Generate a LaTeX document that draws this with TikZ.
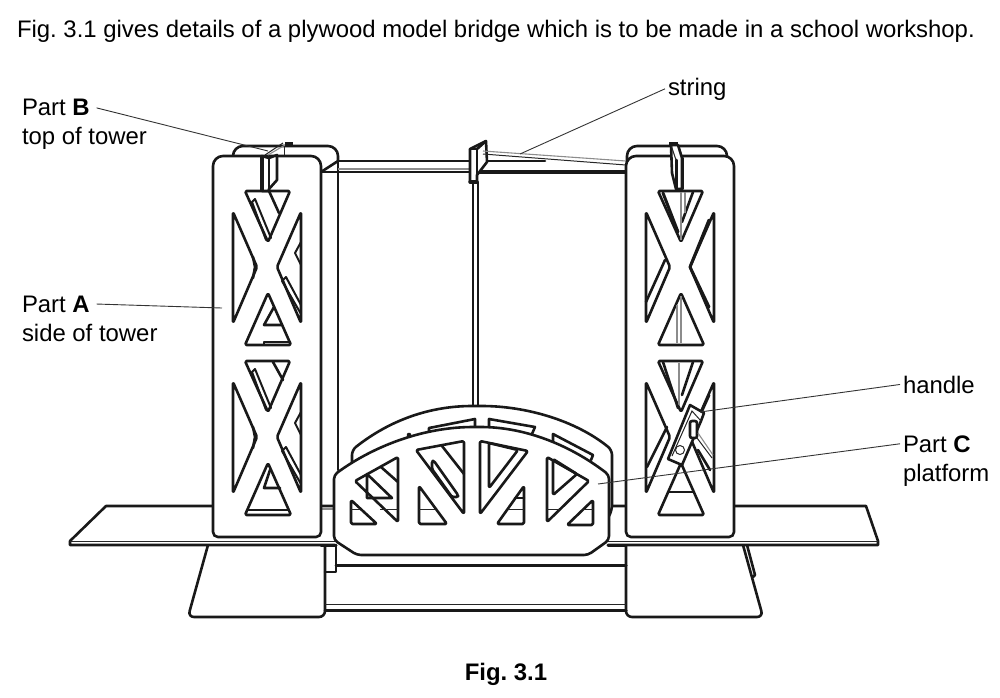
\documentclass[tikz,border=0pt]{standalone}
\usepackage{fontspec}
\setmainfont{Liberation Sans}
\usepackage{tikz}
\usetikzlibrary{positioning}
\frenchspacing

\tikzset{
    heavy/.style={line width=2.6pt, line join=round, line cap=round, draw=black!90},
    window/.style={heavy, rounded corners=1.5pt},
    solid face/.style={heavy, fill=white, rounded corners=6pt},
    fine/.style={line width=1pt, draw=black!85},
    grey line/.style={line width=1.1pt, draw=black!45},
    leader/.style={line width=0.9pt, draw=black!80},
    label/.style={inner sep=0pt, outer sep=3pt, anchor=base west, font=\fontsize{23.9}{28}\selectfont},
}

\begin{document}
\begin{tikzpicture}[x=1pt, y=-1pt]
        \useasboundingbox (0,0) rectangle (1000,697);

        % Feet
        \draw[solid face] (208,545) -- (188,617) -- (325,617) -- (325,545);
        \draw[solid face] (743,545) -- (763,617) -- (626,617) -- (626,545);
        \draw[heavy] (747,545) -- (755,575) -- (753,577);

        % Cross bars under the deck
        \draw[heavy] (325,572) -- (336,572) -- (336,545);
        \draw[heavy, line width=3pt] (336,565) -- (626,565);
        \draw[fine] (325,604) -- (626,604);
        \draw[heavy, line width=3pt] (325,610) -- (626,610);

        % Deck
        \draw[heavy, fill=white] (335,506) -- (106,506) -- (70,541) -- (70,545) -- (335,545);
        \draw[heavy, fill=white] (608,506) -- (866,506) -- (878,541) -- (878,545) -- (608,545);
        \draw[fine] (70,541) -- (335,541);
        \draw[fine] (608,541) -- (878,541);
        \draw[grey line] (321,509) -- (336,509);
        \draw[heavy, line width=3pt] (321,545) -- (336,545);
        \draw[heavy, line width=3pt] (608,545) -- (626,545);

        % Back of the towers
        \draw[heavy, fill=white, rounded corners=10pt] (233,165) -- (233,146) -- (338,146) [sharp corners] -- (338,161) -- (321,172) -- (233,172);
        \draw[heavy, fill=white, rounded corners=10pt] (627,170) -- (627,146) -- (727,146) -- (727,170) -- cycle;
        \draw[heavy] (338,161) -- (338,470);

        % Top rails
        \draw[heavy] (338,161) -- (470,161);
        \draw[heavy] (321,172) -- (470,172);
        \draw[grey line] (338,169) -- (470,169);
        \draw[heavy, line width=3.4pt] (477,172) -- (626,172);
        \draw[heavy] (487,161) -- (545,161);

        % Rod and bracket
        \draw[heavy, line width=1.6pt] (473,182) -- (473,410);
        \draw[heavy, line width=1.6pt] (478,182) -- (478,410);
        \draw[heavy, fill=white] (470,149) -- (486,141) -- (487,162) -- (477,175) -- (477,182) -- (470,182) -- cycle;
        \draw[heavy] (477,149) -- (486,141);
        \draw[heavy] (477,149) -- (470,149);
        \draw[heavy] (477,149) -- (477,182);
        \draw[heavy, line width=3.4pt] (470,182) -- (477,182);
        \draw[fine, fill=white] (476,414) circle (2.5);

        % String
        \draw[grey line] (483,151) -- (626,161);
        \draw[fine] (483,154) -- (626,165);

        % Platform, back
        \draw[heavy, fill=white, rounded corners=5pt] (352,470) -- (352,450) .. controls (390,420) and (430,406) .. (477,406)
            .. controls (525,406) and (575,420) .. (612,450) -- (612,510) -- (606,522);
        \draw[heavy] (429,431) -- (429,428) -- (475,419) -- (475,429);
        \draw[heavy] (532,434) -- (535,427) -- (489,419) -- (489,429);
        \draw[heavy] (591,460) -- (593,455) -- (553,434) -- (553,442);
        \draw[heavy, fill=black] (409,435) circle (1.2);

        % Towers, front faces
        \draw[heavy, fill=white, rounded corners=10pt] (213,350) -- (213,156) -- (321,156) -- (321,350)
            [rounded corners=5pt] -- (321,537) -- (213,537) -- cycle;
        \draw[heavy, fill=white, rounded corners=10pt] (626,350) -- (626,156) -- (734,156) -- (734,350)
            [rounded corners=5pt] -- (734,537) -- (626,537) -- cycle;

        % Window frames of both towers
        \foreach \dx in {0,413}
            \foreach \dy in {0,170} {
                \begin{scope}[shift={(\dx,\dy)}]
                    \draw[window] (245,191) -- (290,191) -- (268,242) -- cycle;
                    \draw[window] (233,212) -- (257,267) -- (233,323) -- cycle;
                    \draw[window] (301,212) -- (277,267) -- (301,323) -- cycle;
                    \draw[window] (245,345) -- (291,345) -- (268,293) -- cycle;
                \end{scope}
            }

        % Seen through the left tower
        \foreach \dy in {0,170} {
            \begin{scope}[shift={(0,\dy)}]
                \draw[heavy] (253,257) -- (255,267) -- (253,278);
                \draw[heavy, line width=2pt] (301,242) -- (295,253) -- (301,265);
                \draw[heavy, line width=2pt] (301,305) -- (286,277) -- (282,281) -- (301,314);
                \draw[heavy, line width=2pt] (252,202) -- (255,199) -- (271,238);
                \draw[heavy, line width=2pt] (252,202) -- (266,240);
            \end{scope}
        }
        \draw[heavy] (269,191) -- (279,213);
        \draw[heavy] (273,362) -- (283,380);
        \draw[heavy] (274,307) -- (264,325) -- (282,325);
        \draw[heavy] (264,344) -- (264,342) -- (290,342);
        \draw[heavy] (270,470) -- (264,488) -- (280,488);
        \draw[heavy] (247,510) -- (288,510);

        % Part B, left
        \draw[heavy, fill=white] (262,156) -- (269,158) -- (277,155) -- (277,180) -- (269,189) -- (269,191) -- (262,191) -- cycle;
        \draw[heavy, line width=4pt] (262,157) -- (262,190);
        \draw[heavy] (269,158) -- (269,190);
        \draw[fine] (284,146) -- (284,155);
        \draw[grey line] (268,155) -- (285,145);
        \draw[fine] (265,155) -- (283,143);
        \fill[black!90] (285,142) rectangle (293,146);

        % Seen through the right tower
        \draw[heavy, line width=3pt] (663,193) -- (678,232);
        \draw[heavy] (693,192) -- (682,222);
        \draw[grey line] (681,192) -- (681,240);
        \draw[grey line] (685,192) -- (685,213);
        \draw[grey line] (681,296) -- (681,343);
        \draw[grey line] (677,305) -- (677,343);
        \draw[grey line] (679,363) -- (679,405);
        \draw[heavy] (665,260) -- (646,302);
        \draw[heavy, line width=3pt] (709,220) -- (690,267) -- (709,307);
        \draw[heavy] (663,362) -- (678,408);
        \draw[heavy] (693,362) -- (682,395);
        \draw[heavy] (667,427) -- (647,467);
        \draw[heavy] (668,492) -- (693,492);
        \draw[heavy, line width=3pt] (709,395) -- (700,415);
        \draw[heavy] (710,470) -- (698,450);

        % Part B, right
        \draw[heavy, fill=white] (671,145) -- (678,145) -- (682,158) -- (682,189) -- (676,189) -- (672,173) -- cycle;
        \draw[heavy, line width=3pt] (676,160) -- (676,189);
        \draw[heavy, line width=3pt] (682,158) -- (682,189);
        \draw[fine] (676,160) -- (671,145);
        \fill[black!90] (669,142) rectangle (678,146);

        % Handle
        \draw[heavy, fill=white] (668,459) -- (690,405) -- (704,413) -- (701,421) -- (682,465) -- cycle;
        \draw[fine] (672,456) -- (692,411) -- (701,421);
        \draw[heavy, fill=white, rounded corners=2pt] (690,421) -- (697,421) -- (697,438) -- (690,438) -- cycle;
        \draw[fine] (680,450) circle (4.5);
        \draw[grey line] (698,433) -- (713,455);
        \draw[fine] (697,438) -- (712,458);

        % Platform, front
        \draw[heavy, fill=white, rounded corners=4pt] (334,475) .. controls (375,445) and (425,427) .. (477,427)
            .. controls (525,427) and (570,445) .. (609,475)
            -- (609,540) -- (588,555) -- (357,555) -- (334,540) -- cycle;

        % Platform windows
        \draw[window] (351,500) -- (377,524) -- (351,524) -- cycle;
        \draw[window] (355,481) -- (398,457) -- (398,522) -- cycle;
        \draw[window] (419,486) -- (447,524) -- (419,524) -- cycle;
        \draw[window] (416,450) -- (464,441) -- (464,514) -- cycle;
        \draw[window] (480,441) -- (528,451) -- (480,514) -- cycle;
        \draw[window] (524,486) -- (524,524) -- (497,524) -- cycle;
        \draw[window] (547,457) -- (589,481) -- (547,522) -- cycle;
        \draw[window] (593,500) -- (593,525) -- (567,525) -- cycle;

        % Seen through the platform
        \draw[heavy] (381,467) -- (398,482);
        \draw[heavy] (367,474) -- (367,498) -- (392,498) -- cycle;
        \draw[heavy] (442,446) -- (464,474);
        \draw[window] (432,461) -- (434,461) -- (458,495) -- (458,497) -- (452,497) -- (432,469) -- cycle;
        \draw[window] (489,443) -- (489,488) -- (518,450) -- cycle;
        \draw[heavy] (515,498) -- (524,498);
        \draw[window] (553,459) -- (553,495) -- (577,474) -- cycle;
        \draw[fine] (351,509) -- (360,509);
        \draw[fine] (380,509) -- (398,509);
        \draw[fine] (419,509) -- (435,509);
        \draw[fine] (508,509) -- (524,509);
        \draw[fine] (547,509) -- (560,509);
        \draw[fine] (583,509) -- (593,509);

        % Labels
        \node[label] (caption) at (14,37) {Fig. 3.1 gives details of a plywood model bridge which is to be made in a school workshop.};
        \node[label] (partB) at (19,115) {Part \textbf{B}};
        \node[label] (partBtext) at (19,144) {top of tower};
        \node[label] (partA) at (19,312) {Part \textbf{A}};
        \node[label] (partAtext) at (19,341) {side of tower};
        \node[label] (stringlabel) at (665,95) {string};
        \node[label] (handlelabel) at (900,393) {handle};
        \node[label] (partC) at (900,452) {Part \textbf{C}};
        \node[label] (partCtext) at (900,481) {platform};
        \node[label, anchor=base] (figlabel) at (506,680) {\textbf{Fig. 3.1}};

        % Leader lines
        \coordinate (partBend) at (268,151);
        \coordinate (partAend) at (222,308);
        \coordinate (stringend) at (520,154);
        \coordinate (handleend) at (700,412);
        \coordinate (partCend) at (598,484);
        \draw[leader, shorten <=4pt] (partB.east) -- (partBend);
        \draw[leader, shorten <=4pt] (partA.east) -- (partAend);
        \draw[leader] (stringlabel.west) -- (stringend);
        \draw[leader] (handlelabel.west) -- (handleend);
        \draw[leader] (partC.west) -- (partCend);
    \end{tikzpicture}
\end{document}
